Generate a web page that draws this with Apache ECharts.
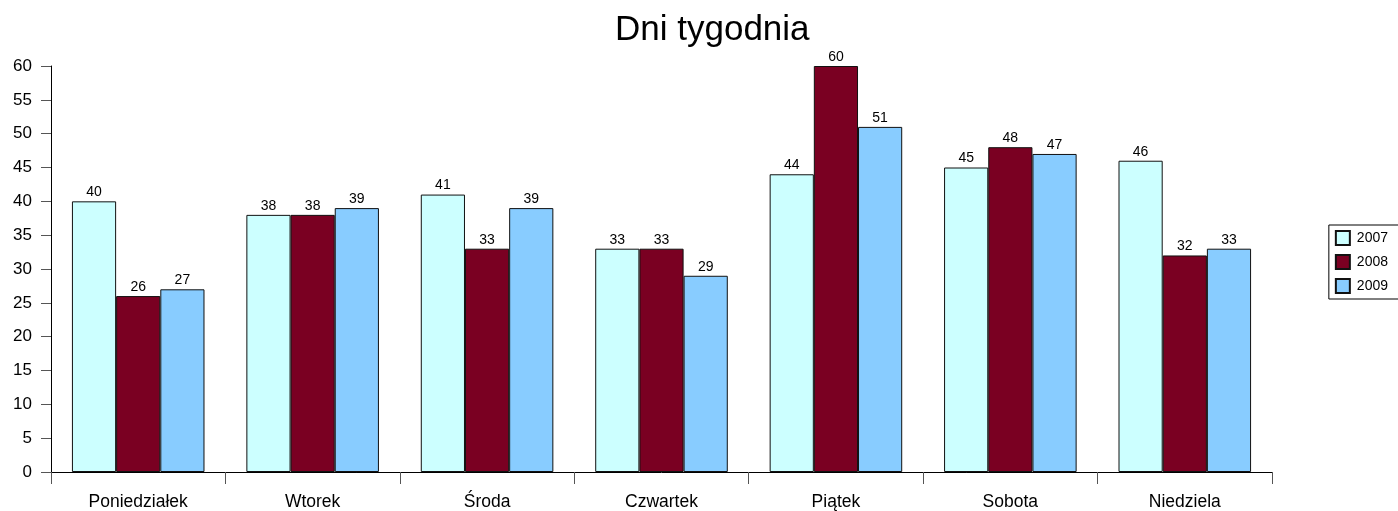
<!DOCTYPE html>
<html>
<head>
<meta charset="utf-8">
<script src="https://cdn.jsdelivr.net/npm/echarts@6/dist/echarts.min.js"></script>
<style>
  html, body { margin: 0; padding: 0; background: #fff; }
  #chart { width: 1398px; height: 511px; }
</style>
</head>
<body>
<div id="chart"></div>
<script>
const days = ['Poniedziałek', 'Wtorek', 'Środa', 'Czwartek', 'Piątek', 'Sobota', 'Niedziela']
const y2007 = [40, 38, 41, 33, 44, 45, 46]
const y2008 = [26, 38, 33, 33, 60, 48, 32]
const y2009 = [27, 39, 39, 29, 51, 47, 33]
const seriesNames = ['2007', '2008', '2009']

const chart = echarts.init(document.getElementById('chart'))

const barSeries = (name, data, color) => ({
  name: name,
  type: 'bar',
  data: data,
  barGap: '0%',
  barCategoryGap: '24%',
  itemStyle: {
    color: color,
    borderColor: '#111',
    borderWidth: 1
  },
  label: {
    show: true,
    position: 'top',
    distance: 2,
    color: '#000',
    fontSize: 14,
    fontFamily: 'Liberation Sans'
  }
})

const option = {
  animation: false,
  textStyle: { fontFamily: 'Liberation Sans' },
  title: {
    text: 'Dni tygodnia',
    left: 610,
    top: 8,
    textStyle: {
      fontSize: 35,
      fontWeight: 'normal',
      color: '#000',
      fontFamily: 'Liberation Sans'
    }
  },
  legend: {
    orient: 'vertical',
    right: -2,
    top: 225,
    data: seriesNames,
    icon: 'rect',
    itemWidth: 14,
    itemHeight: 14,
    itemGap: 8,
    padding: [5, 12, 5, 6],
    borderColor: '#000',
    borderWidth: 1,
    textStyle: { fontSize: 14, color: '#000', padding: [0, 0, 0, 2] }
  },
  grid: {
    left: 51,
    right: 126,
    top: 66,
    bottom: 37,
    containLabel: false
  },
  xAxis: {
    type: 'category',
    data: days,
    axisLine: { lineStyle: { color: '#000', width: 1 } },
    axisTick: { show: true, length: 12, lineStyle: { color: '#555' } },
    axisLabel: { color: '#000', fontSize: 17.5, margin: 21 }
  },
  yAxis: {
    type: 'value',
    min: 0,
    max: 60,
    interval: 5,
    axisLine: { show: true, lineStyle: { color: '#000', width: 1 } },
    axisTick: { show: true, length: 10, lineStyle: { color: '#555' } },
    axisLabel: { color: '#000', fontSize: 17, margin: 19 },
    splitLine: { show: false }
  },
  series: [
    barSeries('2007', y2007, '#CCFFFF'),
    barSeries('2008', y2008, '#7A0022'),
    barSeries('2009', y2009, '#88CCFF')
  ]
}

chart.setOption(option)
</script>
</body>
</html>
